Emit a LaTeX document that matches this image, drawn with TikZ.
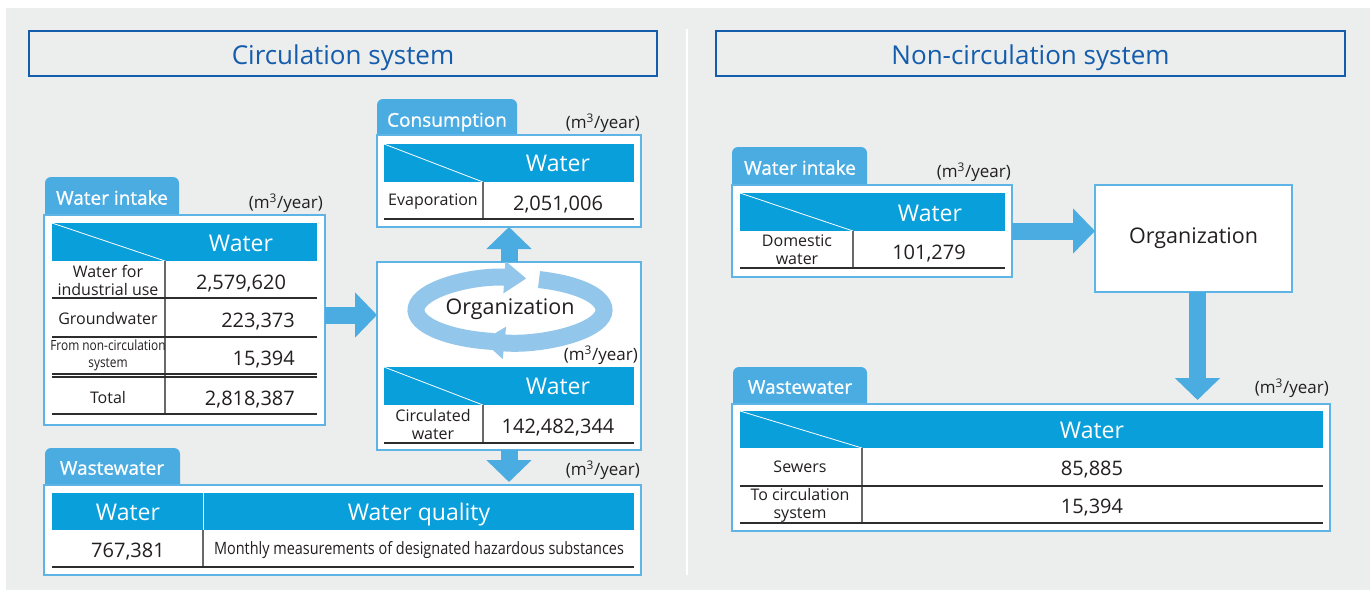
\documentclass[tikz,border=0pt]{standalone}
\usepackage{fontspec}
\setmainfont{Open Sans}
\newfontfamily\condfont{Open Sans}[FakeStretch=0.85]
\newfontfamily\tabfont{Open Sans}[FakeBold=0.8]
\usetikzlibrary{arrows.meta}
\definecolor{bgc}{RGB}{236,237,237}
\definecolor{tabc}{RGB}{75,172,226}
\definecolor{hdrc}{RGB}{8,159,219}
\definecolor{panelc}{RGB}{95,180,230}
\definecolor{titlec}{RGB}{20,92,172}
\definecolor{ringc}{RGB}{146,198,235}
\definecolor{txt}{RGB}{35,31,32}
\definecolor{linec}{RGB}{45,45,45}
\definecolor{divc}{RGB}{105,105,105}
\begin{document}
\begin{tikzpicture}[x=1pt, y=-1pt,
	panel/.style={draw=panelc, line width=2, fill=white, inner sep=0, outer sep=0, anchor=north west},
	titlebox/.style={draw=titlec, line width=2, fill=bgc, inner sep=0, outer sep=0, anchor=north west,
		font=\fontsize{26}{30}\selectfont, text=titlec, text height=21pt, text depth=0pt},
	tabtxt/.style={font=\tabfont\fontsize{19}{22}\selectfont, text=white, inner sep=0,
		text height=17.4pt, text depth=0pt},
	hdr/.style={font=\fontsize{23}{26}\selectfont, text=white, inner sep=0,
		text height=17.8pt, text depth=0pt},
	lbl/.style={font=\fontsize{16}{18}\selectfont, text=txt, align=center, inner sep=0},
	cond/.style={font=\condfont\fontsize{14}{17}\selectfont, text=txt, align=center, inner sep=0},
	num/.style={font=\fontsize{20}{24}\selectfont, text=txt, inner sep=0,
		text height=16pt, text depth=0pt},
	unit/.style={font=\fontsize{17}{20}\selectfont, text=txt, inner sep=0, anchor=east},
	rowline/.style={draw=linec, line width=1.2},
	colline/.style={draw=divc, line width=1.2},
	diag/.style={draw=white, line width=0.8},
	bigarrow/.style={draw=tabc, line width=17pt, -{Triangle[width=44pt,length=22pt]}},
	ringarrow/.style={draw=ringc, line width=17pt, -{Triangle[width=31pt,length=22pt]}}]
	% background
	\fill[white] (0,0) rectangle (1370,590);
	\useasboundingbox (0,0) rectangle (1370,590);
	\fill[bgc] (6,8) rectangle (1370,590);
	\draw[white, line width=2.5] (687,29) -- (687,575);
	% titles
	\node[titlebox, minimum width=628, minimum height=45] (circ) at (29,31) {Circulation system};
	\node[titlebox, minimum width=629, minimum height=45] (noncirc) at (716,31) {Non-circulation system};

	%% circulation system
	% water intake
	\fill[tabc, rounded corners=6] (45,177) rectangle (179,225);
	\node[panel, minimum width=281, minimum height=210] (wi) at (44,215) {};
	\node[tabtxt] (wiTab) at (112,196) {Water intake};
	\node[unit] (wiUnit) at (323,203) {(m\textsuperscript{3}/year)};
	\fill[hdrc] (52,223) rectangle (317,261);
	\draw[diag] (52,223) -- (165,261);
	\draw[colline] (165,261) -- (165,414);
	\foreach \y in {298,337,374,377,414} \draw[rowline] (52,\y) -- (317,\y);
	\node[hdr] (wiHead) at (241,243) {Water};
	\node[lbl] (wiL1) at (108,280) {Water for\\industrial use};
	\node[lbl] (wiL2) at (108,318) {Groundwater};
	\node[cond] (wiL3) at (108,355) {From non-circulation\\system};
	\node[lbl] (wiL4) at (108,397) {Total};
	\node[num] (wiV1) at (241,281) {2,579,620};
	\node[num, anchor=east] (wiV2) at (295,319) {223,373};
	\node[num, anchor=east] (wiV3) at (295,357) {15,394};
	\node[num, anchor=east] (wiV4) at (295,397) {2,818,387};

	% consumption
	\fill[tabc, rounded corners=6] (377,99) rectangle (517,145);
	\node[panel, minimum width=264, minimum height=92] (cons) at (377,135) {};
	\node[tabtxt] (consTab) at (447,118) {Consumption};
	\node[unit] (consUnit) at (640,123) {(m\textsuperscript{3}/year)};
	\fill[hdrc] (384,144) rectangle (634,182);
	\draw[diag] (384,144) -- (483,182);
	\draw[colline] (483,182) -- (483,219);
	\draw[rowline] (384,219) -- (634,219);
	\node[hdr] (consHead) at (558,163) {Water};
	\node[lbl] (consL1) at (433,202) {Evaporation};
	\node[num] (consV1) at (558,202) {2,051,006};

	% organization
	\node[panel, minimum width=264, minimum height=188] (org) at (377,262) {};
	\coordinate (ring) at (510,310);
	\draw[ringarrow] (ring) ++(100:94 and 32) arc[start angle=100, end angle=280, x radius=94, y radius=32];
	\draw[ringarrow] (ring) ++(288:94 and 32) arc[start angle=288, end angle=467, x radius=94, y radius=32];
	\node[font=\fontsize{21.5}{24}\selectfont, text=txt, inner sep=0] (orgTxt) at (510,309) {Organization};
	\node[unit] (orgUnit) at (638,355) {(m\textsuperscript{3}/year)};
	\fill[hdrc] (384,367) rectangle (634,405);
	\draw[diag] (384,367) -- (483,405);
	\draw[colline] (483,405) -- (483,443);
	\draw[rowline] (384,443) -- (634,443);
	\node[hdr] (orgHead) at (558,386) {Water};
	\node[lbl] (orgL1) at (433,424) {Circulated\\water};
	\node[num] (orgV1) at (558,425) {142,482,344};

	% wastewater
	\fill[tabc, rounded corners=6] (45,448) rectangle (180,495);
	\node[panel, minimum width=597, minimum height=90] (ww) at (44,485) {};
	\node[tabtxt] (wwTab) at (112,466) {Wastewater};
	\node[unit] (wwUnit) at (640,470) {(m\textsuperscript{3}/year)};
	\fill[hdrc] (52,493) rectangle (634,530);
	\draw[white, line width=1] (203,493) -- (203,530);
	\draw[colline] (203,530) -- (203,567);
	\draw[rowline] (52,567) -- (634,567);
	\node[hdr] (wwHead1) at (128,512) {Water};
	\node[hdr] (wwHead2) at (419,512) {Water quality};
	\node[num] (wwV1) at (128,549) {767,381};
	\node[cond, font=\condfont\fontsize{17}{20}\selectfont] (wwL1) at (419,550) {Monthly measurements of designated hazardous substances};

	% flows
	\draw[bigarrow] ([yshift=5pt]wi.east) -- ([yshift=5pt]wi.east -| org.west);
	\draw[bigarrow] (org.north) -- (cons.south);
	\draw[bigarrow] (org.south) -- ([yshift=3pt]ww.north -| org.south);

	%% non-circulation system
	% water intake
	\fill[tabc, rounded corners=6] (732,147) rectangle (867,195);
	\node[panel, minimum width=280, minimum height=92] (wiB) at (732,185) {};
	\node[tabtxt] (wiBTab) at (800,166) {Water intake};
	\node[unit] (wiBUnit) at (1011,172) {(m\textsuperscript{3}/year)};
	\fill[hdrc] (740,193) rectangle (1005,231);
	\draw[diag] (740,193) -- (853,231);
	\draw[colline] (853,231) -- (853,268);
	\draw[rowline] (740,268) -- (1005,268);
	\node[hdr] (wiBHead) at (930,213) {Water};
	\node[lbl] (wiBL1) at (797,250) {Domestic\\water};
	\node[num] (wiBV1) at (929,251) {101,279};

	% organization
	\node[panel, line width=1.5, minimum width=197, minimum height=107,
		font=\fontsize{21.5}{24}\selectfont, text=txt] (orgB) at (1095,185) {Organization};

	% wastewater
	\fill[tabc, rounded corners=6] (733,367) rectangle (867,414);
	\node[panel, minimum width=598, minimum height=127] (wwB) at (732,404) {};
	\node[tabtxt] (wwBTab) at (800,385) {Wastewater};
	\node[unit] (wwBUnit) at (1329,388) {(m\textsuperscript{3}/year)};
	\fill[hdrc] (740,411) rectangle (1323,448);
	\draw[diag] (740,411) -- (862,448);
	\draw[colline] (862,448) -- (862,523);
	\foreach \y in {486,523} \draw[rowline] (740,\y) -- (1323,\y);
	\node[hdr] (wwBHead) at (1092,430) {Water};
	\node[lbl] (wwBL1) at (800,467) {Sewers};
	\node[lbl] (wwBL2) at (800,505) {To circulation\\system};
	\node[num] (wwBV1) at (1092,467) {85,885};
	\node[num] (wwBV2) at (1092,505) {15,394};

	% flows
	\draw[bigarrow] (wiB.east) -- (wiB.east -| orgB.west);
	\draw[bigarrow] ([xshift=4pt]orgB.south) -- ([xshift=4pt, yshift=4pt]orgB.south |- wwB.north);
\end{tikzpicture}
\end{document}
